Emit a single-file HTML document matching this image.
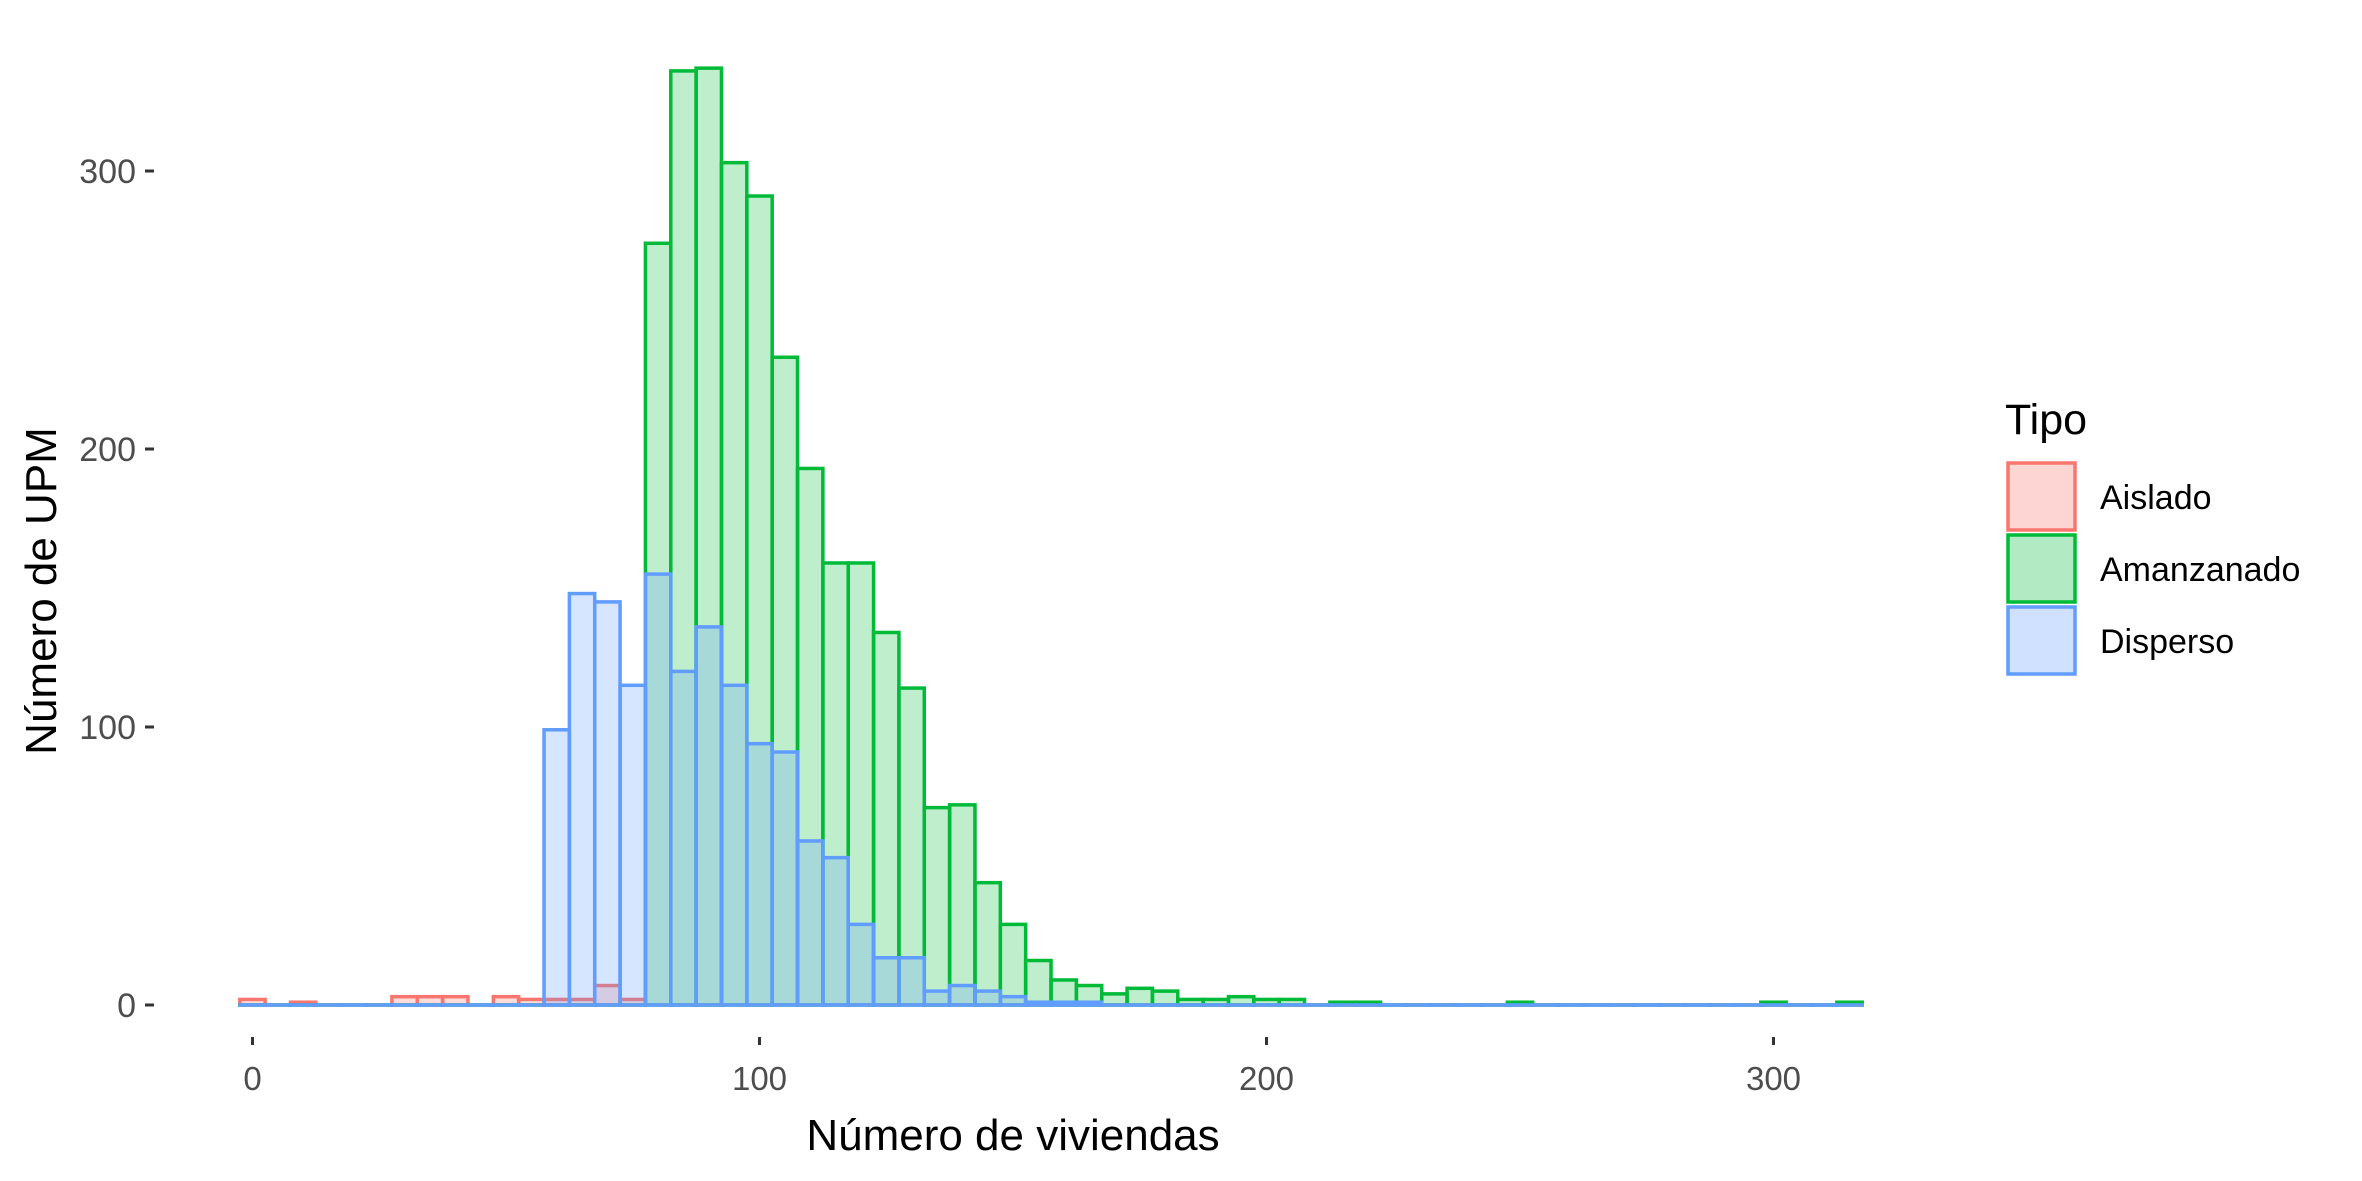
<!DOCTYPE html>
<html><head><meta charset="utf-8"><style>
html,body{margin:0;padding:0;background:#fff;}
svg{display:block;font-family:"Liberation Sans",Arial,sans-serif;}
</style></head><body>
<svg id="chart" width="2362" height="1181" viewBox="0 0 2362 1181">
<rect width="2362" height="1181" fill="#fff"/>
<g id="bars"></g>
<g id="axes"></g>
<text x="1013" y="1150" font-size="44" text-anchor="middle" fill="#000">Número de viviendas</text>
<text transform="translate(56,591) rotate(-90)" font-size="44" text-anchor="middle" fill="#000">Número de UPM</text>
<g id="legend">
<text x="2005" y="434" font-size="43" fill="#000">Tipo</text>
</g>
</svg>
<script>
const binCenters = [];
for (let v = 0; v <= 315; v += 5) binCenters.push(v);
const seriesNames = ["Aislado", "Amanzanado", "Disperso"];
const aislado = {0:2,10:1,30:3,35:3,40:3,50:3,55:2,60:2,65:2,70:7,75:2};
const amanzanado = {80:274,85:336,90:337,95:303,100:291,105:233,110:193,115:159,120:159,125:134,130:114,135:71,140:72,145:44,150:29,155:16,160:9,165:7,170:4,175:6,180:5,185:2,190:2,195:3,200:2,205:2,215:1,220:1,250:1,300:1,315:1};
const disperso = {60:99,65:148,70:145,75:115,80:155,85:120,90:136,95:115,100:94,105:91,110:59,115:53,120:29,125:17,130:17,135:5,140:7,145:5,150:3,155:1,160:1,165:1};
const xTicks = [0, 100, 200, 300];
const yTicks = [0, 100, 200, 300];
const binWidth = 5;

const colors = ["#F8766D", "#00BA38", "#619CFF"];
const x = v => 252.5 + v * 5.07;
const y = v => 1005 - v * 2.78;
const NS = "http://www.w3.org/2000/svg";
const barsG = document.getElementById("bars");
const axesG = document.getElementById("axes");
const legendG = document.getElementById("legend");

[aislado, amanzanado, disperso].forEach((s, si) => {
  binCenters.forEach(c => {
    const val = s[c] || 0;
    const x0 = x(c - binWidth / 2), x1 = x(c + binWidth / 2);
    if (val === 0) {
      const l = document.createElementNS(NS, "line");
      l.setAttribute("x1", x0); l.setAttribute("x2", x1);
      l.setAttribute("y1", y(0)); l.setAttribute("y2", y(0));
      l.setAttribute("stroke", colors[si]);
      l.setAttribute("stroke-width", "3.5");
      l.setAttribute("stroke-linecap", "square");
      
      
      barsG.appendChild(l);
      return;
    }
    const r = document.createElementNS(NS, "rect");
    r.setAttribute("x", x0);
    r.setAttribute("y", y(val));
    r.setAttribute("width", x1 - x0);
    r.setAttribute("height", y(0) - y(val));
    r.setAttribute("fill", colors[si]);
    r.setAttribute("fill-opacity", "0.25");
    r.setAttribute("stroke", colors[si]);
    r.setAttribute("stroke-width", "3.5");
    
    
    barsG.appendChild(r);
  });
});

xTicks.forEach(t => {
  const l = document.createElementNS(NS, "line");
  l.setAttribute("x1", x(t)); l.setAttribute("x2", x(t));
  l.setAttribute("y1", 1037); l.setAttribute("y2", 1045);
  l.setAttribute("stroke", "#333"); l.setAttribute("stroke-width", "3");
  
  
  axesG.appendChild(l);
  const tx = document.createElementNS(NS, "text");
  tx.setAttribute("x", x(t)); tx.setAttribute("y", 1090);
  tx.setAttribute("font-size", "33"); tx.setAttribute("fill", "#4d4d4d");
  tx.setAttribute("text-anchor", "middle");
  tx.textContent = t;
  
  
  axesG.appendChild(tx);
});
yTicks.forEach(t => {
  const l = document.createElementNS(NS, "line");
  l.setAttribute("x1", 145); l.setAttribute("x2", 154);
  l.setAttribute("y1", y(t)); l.setAttribute("y2", y(t));
  l.setAttribute("stroke", "#333"); l.setAttribute("stroke-width", "3");
  
  
  axesG.appendChild(l);
  const tx = document.createElementNS(NS, "text");
  tx.setAttribute("x", 136); tx.setAttribute("y", y(t) + 12);
  tx.setAttribute("font-size", "34"); tx.setAttribute("fill", "#4d4d4d");
  tx.setAttribute("text-anchor", "end");
  tx.textContent = t;
  
  
  axesG.appendChild(tx);
});

seriesNames.forEach((n, i) => {
  const top = 463 + i * 72;
  const r = document.createElementNS(NS, "rect");
  r.setAttribute("x", 2008); r.setAttribute("y", top);
  r.setAttribute("width", 67); r.setAttribute("height", 67);
  r.setAttribute("fill", colors[i]); r.setAttribute("fill-opacity", "0.3");
  r.setAttribute("stroke", colors[i]); r.setAttribute("stroke-width", "3.5");
  
  
  legendG.appendChild(r);
  const tx = document.createElementNS(NS, "text");
  tx.setAttribute("x", 2100); tx.setAttribute("y", top + 46);
  tx.setAttribute("font-size", "34"); tx.setAttribute("fill", "#000");
  tx.textContent = n;
  
  
  legendG.appendChild(tx);
});
</script>
</body></html>
